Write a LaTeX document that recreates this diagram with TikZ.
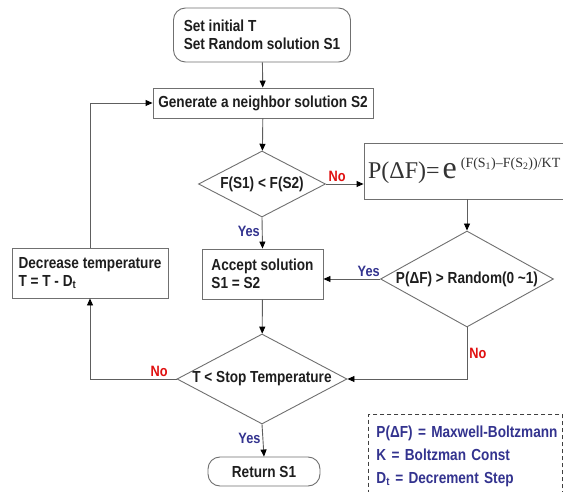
\documentclass[tikz,border=0pt]{standalone}
\usepackage{fontspec}
\setmainfont[FakeStretch=0.85]{Liberation Sans}
\newfontfamily\serifform{Liberation Serif}
\usetikzlibrary{shapes.geometric,arrows.meta}
\definecolor{lin}{HTML}{5E5E5E}
\definecolor{bord}{HTML}{707070}
\definecolor{txt}{HTML}{1E1E1E}
\definecolor{yesblue}{HTML}{33338F}
\definecolor{nored}{HTML}{E01010}
\begin{document}
\begin{tikzpicture}[x=1pt,y=-1pt,
  font=\bfseries\fontsize{16}{18}\selectfont, text=txt,
  box/.style={draw=bord, line width=0.9pt, fill=white, inner sep=0pt},
  rbox/.style={box, rounded corners=12pt},
  dia/.style={draw=bord, line width=0.9pt, diamond, inner sep=0pt, fill=white},
  arr/.style={draw=lin, line width=0.9pt, -{Triangle[length=7pt,width=6pt,color=black]}},
  yes/.style={text=yesblue, font=\bfseries\fontsize{15}{17}\selectfont, inner sep=2pt},
  no/.style={text=nored, font=\bfseries\fontsize{15}{17}\selectfont, inner sep=2pt},
]
\clip (0,0) rectangle (563,492);
\fill[white] (0,0) rectangle (563,492);

\node[rbox, minimum width=177pt, minimum height=54pt, align=left] (start) at (262,35)
  {Set initial T\\Set Random solution S1};
\node[box, minimum width=220pt, minimum height=30pt] (gen) at (263,103)
  {Generate a neighbor solution S2};
\node[dia, minimum width=127pt, minimum height=66pt, aspect=1.9] (d1) at (262,184)
  {F(S1) < F(S2)};
\node[box, minimum width=240pt, minimum height=56pt, text width=232pt, inner xsep=4pt, align=left, text=black!80] (f) at (484,171)
  {\mbox{\serifform\mdseries\fontsize{24}{24}\selectfont P(ΔF)=\kern3pt\fontsize{32}{32}\selectfont e\kern4pt\raisebox{11pt}{\fontsize{14}{14}\selectfont (F(S\textsubscript{1})–F(S\textsubscript{2}))/KT}}};
\node[dia, minimum width=173pt, minimum height=96pt, aspect=1.8] (d2) at (467,279)
  {P(ΔF) > Random(0 \textasciitilde1)};
\node[box, minimum width=121pt, minimum height=50pt, align=left] (acc) at (262.5,274)
  {Accept solution\\S1 = S2};
\node[box, minimum width=156pt, minimum height=50pt, align=left] (dec) at (90,273)
  {Decrease temperature\\T = T - D\textsubscript{t}};
\node[dia, minimum width=170pt, minimum height=90pt, aspect=1.9] (d3) at (262,379)
  {T < Stop Temperature};
\node[rbox, minimum width=112pt, minimum height=29pt] (ret) at (264,471.5)
  {Return S1};
\node[draw=black!75, dash pattern=on 4pt off 3pt, line width=0.9pt, anchor=north west,
  text=yesblue, text width=178pt, inner xsep=8pt, inner ysep=11pt, align=left,
  font=\bfseries\fontsize{16}{23}\selectfont] (leg) at (368,414)
  {\mbox{P(ΔF) = Maxwell-Boltzmann}\\\mbox{K = Boltzman Const}\\\mbox{D\textsubscript{t} = Decrement Step}};

\draw[arr] (start) -- (gen);
\draw[arr] (gen) -- (d1);
\draw[arr] (d1.east) -- (d1.east -| f.west) node[no, pos=0.3, above] {No};
\draw[arr] (d2.north |- f.south) -- (d2.north);
\draw[arr] (d2.west) -- (d2.west -| acc.east) node[yes, pos=0.2, above] {Yes};
\draw[arr] (d1.south) -- (acc.north) node[yes, pos=0.45, left] {Yes};
\draw[arr] (acc) -- (d3);
\draw[arr] (d2.south) |- (d3.east) node[no, pos=0.25, right] {No};
\draw[arr] (d3.west) -| (dec.south) node[no, pos=0.1, above] {No};
\draw[arr] (dec.north) |- (gen.west);
\draw[arr] (d3.south) -- (ret.north) node[yes, pos=0.45, left] {Yes};
\end{tikzpicture}
\end{document}
